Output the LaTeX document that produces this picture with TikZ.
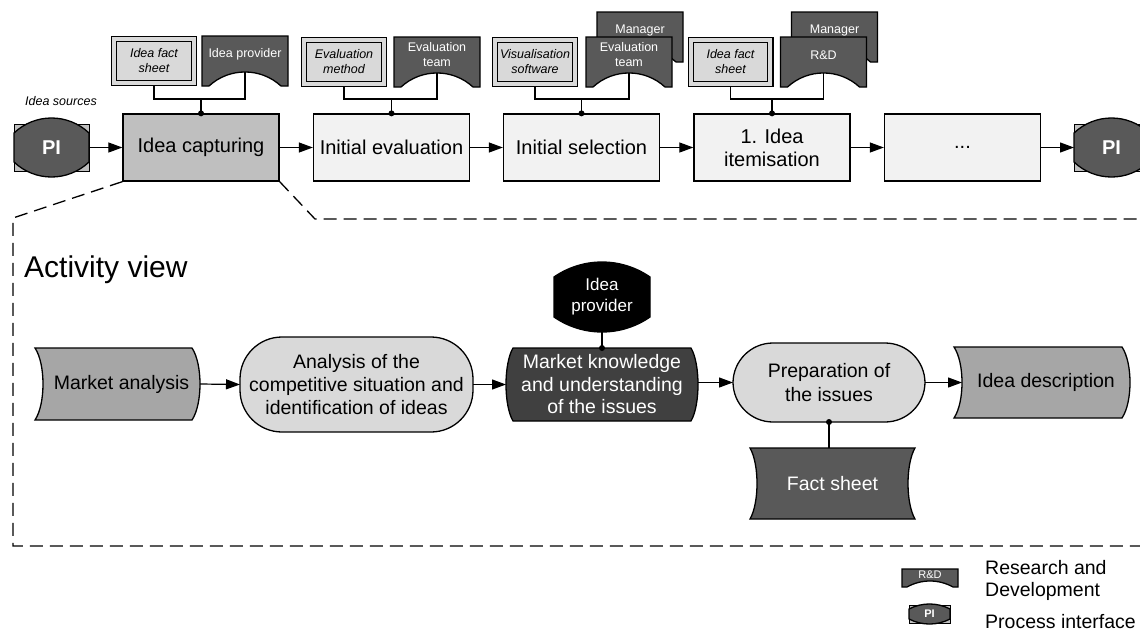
\documentclass[tikz,border=0pt]{standalone}
\usepackage{fontspec}
\setmainfont{Liberation Sans}
\usetikzlibrary{arrows.meta,calc,backgrounds}
\definecolor{procL}{HTML}{F2F2F2}
\definecolor{procM}{HTML}{BFBFBF}
\definecolor{lgray}{HTML}{D9D9D9}
\definecolor{mgray}{HTML}{A6A6A6}
\definecolor{dgray}{HTML}{595959}
\definecolor{vdgray}{HTML}{404040}
\definecolor{pirect}{HTML}{BFBFBF}

\tikzset{
  proc/.style={draw, line width=1.3pt, fill=procL, minimum width=156pt, minimum height=67pt, inner sep=0pt, align=center, font=\fontsize{20}{23}\selectfont},
  docbox/.style={draw, line width=1.2pt, double=lgray, double distance=4pt, fill=lgray, minimum width=79.6pt, minimum height=43.6pt, inner sep=0pt, outer sep=3.2pt, align=center, font=\fontsize{12.5}{15}\selectfont\itshape},
  rolebox/.style={minimum width=86pt, minimum height=36pt, inner sep=0pt, outer sep=0pt, align=center, text=white, font=\fontsize{12.5}{15}\selectfont},
  pinode/.style={minimum width=75pt, minimum height=47pt, inner sep=0pt, outer sep=0pt, text=white, font=\fontsize{20}{24}\selectfont\bfseries},
  conn/.style={line width=1.2pt},
  arr/.style={conn, -{Triangle[length=14pt,width=10pt]}},
  zoomline/.style={line width=1.3pt, dash pattern=on 13pt off 7pt},
  act/.style={inner sep=0pt, outer sep=0pt, align=center, font=\fontsize{19.5}{23}\selectfont},
  stadium/.style={act, draw, line width=1.3pt, fill=lgray},
  shp/.style={line width=1.3pt},
}

% lens: node, fill, side inset, ctrl x, ctrl y (up)
\newcommand{\LENSshape}[5]{%
  \filldraw[shp, fill=#2] ($(#1.north west)+(0,#3)$) .. controls ($(#1.north west)+(#4,-#5)$) and ($(#1.north east)+(-#4,-#5)$) .. ($(#1.north east)+(0,#3)$) -- ($(#1.south east)+(0,-#3)$) .. controls ($(#1.south east)+(-#4,#5)$) and ($(#1.south west)+(#4,#5)$) .. ($(#1.south west)+(0,-#3)$) -- cycle;}
\newcommand{\PIshape}[4]{%
  \filldraw[fill=pirect, line width=0.8pt] (#1.north west) rectangle (#1.south east);
  \LENSshape{#1}{dgray}{#2}{#3}{#4}}
% role: node, bottom ext, inset, ctrl x, ctrl y, fill
\newcommand{\ROLEshape}[6]{%
  \filldraw[shp, fill=#6] (#1.north west) -- (#1.north east) -- ($(#1.south east)+(0,#2)$) -- ($(#1.south east)+(-#3,#2)$) .. controls ($(#1.south east)+({-#3-#4},{#2-#5})$) and ($(#1.south west)+({#3+#4},{#2-#5})$) .. ($(#1.south west)+(#3,#2)$) -- ($(#1.south west)+(0,#2)$) -- cycle;}
% ribbon: both sides curve to the right
\newcommand{\RIBshape}[3]{%
  \filldraw[shp, fill=#3] ($(#1.north west)+(-#2,0)$) -- ($(#1.north east)+(-#2,0)$) .. controls ($(#1.north east)+({#2/3},16)$) and ($(#1.south east)+({#2/3},-16)$) .. ($(#1.south east)+(-#2,0)$) -- ($(#1.south west)+(-#2,0)$) .. controls ($(#1.south west)+({#2/3},-16)$) and ($(#1.north west)+({#2/3},16)$) .. cycle;}
% barrel: both sides bulge out
\newcommand{\BARshape}[3]{%
  \filldraw[shp, fill=#3] ($(#1.north west)+(#2,0)$) -- ($(#1.north east)+(-#2,0)$) .. controls ($(#1.north east)+({#2/3},16)$) and ($(#1.south east)+({#2/3},-16)$) .. ($(#1.south east)+(-#2,0)$) -- ($(#1.south west)+(#2,0)$) .. controls ($(#1.south west)+({-#2/3},-16)$) and ($(#1.north west)+({-#2/3},16)$) .. cycle;}
% concave: both sides curve in
\newcommand{\CONshape}[3]{%
  \filldraw[shp, fill=#3] ($(#1.north west)+(-#2,0)$) -- ($(#1.north east)+(#2,0)$) .. controls ($(#1.north east)+({-#2/3},16)$) and ($(#1.south east)+({-#2/3},-16)$) .. ($(#1.south east)+(#2,0)$) -- ($(#1.south west)+(-#2,0)$) .. controls ($(#1.south west)+({#2/3},-16)$) and ($(#1.north west)+({#2/3},16)$) .. cycle;}

\begin{document}
\begin{tikzpicture}[x=1pt,y=-1pt]
\useasboundingbox (0,0) rectangle (1140,643);

% ---------- process row ----------
\node[pinode] (pi1) at (51.5,147.5) {PI};
\node[proc, fill=procM] (cap) at (201,147.5) {Idea capturing};
\node[proc] (ie) at (391.5,147.5) {Initial evaluation};
\node[proc] (is) at (581.5,147.5) {Initial selection};
\node[proc] (ii) at (772,147.5) {1. Idea\\itemisation};
\node[proc] (dots) at (962.5,147.5) {...};
\node[pinode] (pi2) at (1111.5,147.5) {PI};

\node[anchor=west, inner sep=0pt, font=\fontsize{12.5}{14}\selectfont\itshape] (src) at (25,101) {Idea sources};

% ---------- resources ----------
\node[docbox] (d1) at (154,61) {Idea fact\\sheet};
\node[rolebox, anchor=north] (r1) at (245,36) {Idea provider};
\node[docbox] (d2) at (344,62) {Evaluation\\method};
\node[rolebox, anchor=north] (r2) at (437,37) {Evaluation\\team};
\node[docbox] (d3) at (535,62) {Visualisation\\software};
\node[rolebox, anchor=north] (m3) at (640,12) {Manager};
\node[rolebox, anchor=north] (r3) at (629,37) {Evaluation\\team};
\node[docbox] (d4) at (730.5,62) {Idea fact\\sheet};
\node[rolebox, anchor=north] (m4) at (834.5,12) {Manager};
\node[rolebox, anchor=north] (r4) at (823.5,37) {R\&D};

\coordinate (j1) at (201,99);
\coordinate (j2) at (391.5,99);
\coordinate (j3) at (581.5,99);
\coordinate (j4) at (772,99);

% ---------- activity view ----------
\node[anchor=west, inner sep=0pt, font=\fontsize{30}{34}\selectfont] (av) at (24,270) {Activity view};
\node[act, minimum width=157pt, minimum height=72pt] (ma) at (121.5,384) {Market analysis};
\node[stadium, rounded corners=42pt, minimum width=233pt, minimum height=95pt] (an) at (356.5,384.5) {Analysis of the\\competitive situation and\\identification of ideas};
\node[act, text=white, minimum width=192pt, minimum height=73pt, font=\fontsize{19.5}{22.5}\selectfont] (mk) at (602,384.5) {Market knowledge\\and understanding\\of the issues};
\node[inner sep=0pt, outer sep=0pt, align=center, text=white, minimum width=96pt, minimum height=70pt, font=\fontsize{17}{21}\selectfont] (ip) at (602,297) {Idea\\provider};
\node[stadium, rounded corners=40pt, minimum width=192pt, minimum height=79pt, font=\fontsize{19.5}{24}\selectfont] (prep) at (829,382.5) {Preparation of\\the issues};
\node[act, minimum width=168pt, minimum height=71pt] (id) at (1046,382.5) {Idea description};
\node[act, text=white, minimum width=151pt, minimum height=71pt] (fs) at (832.5,483.5) {Fact sheet};

% ---------- legend ----------
\node[rolebox, anchor=north, minimum width=56pt, minimum height=12pt, font=\fontsize{11}{13}\selectfont] (lr) at (930,569) {R\&D};
\node[pinode, minimum width=41pt, minimum height=18pt, font=\fontsize{11}{13}\selectfont\bfseries] (lpi) at (929.5,614) {PI};
\node[anchor=west, inner sep=0pt, align=left, font=\fontsize{19.5}{21.5}\selectfont] (lt1) at (985,580.5) {Research and\\Development};
\node[anchor=west, inner sep=0pt, font=\fontsize{19.5}{21.5}\selectfont] (lt2) at (985,622) {Process interface};

% ---------- shapes behind text ----------
\begin{scope}[on background layer]
  \PIshape{pi1}{9}{21}{11}
  \PIshape{pi2}{9}{21}{11}
  \ROLEshape{r1}{14}{7}{20.3}{18.7}{dgray}
  \ROLEshape{r2}{14}{7}{20.3}{18.7}{dgray}
  \ROLEshape{m3}{14}{7}{20.3}{18.7}{dgray}
  \ROLEshape{r3}{14}{7}{20.3}{18.7}{dgray}
  \ROLEshape{m4}{14}{7}{20.3}{18.7}{dgray}
  \ROLEshape{r4}{14}{7}{20.3}{18.7}{dgray}
  \RIBshape{ma}{8}{mgray}
  \RIBshape{id}{8}{mgray}
  \BARshape{mk}{7}{vdgray}
  \CONshape{fs}{7}{dgray}
  \LENSshape{ip}{black}{15}{29}{5}
  \ROLEshape{lr}{6}{5}{14.3}{8}{dgray}
  \PIshape{lpi}{4}{12.9}{2.7}
\end{scope}

% ---------- connectors ----------
\draw[arr] (pi1.east) -- (cap.west);
\draw[arr] (cap.east) -- (ie.west);
\draw[arr] (ie.east) -- (is.west);
\draw[arr] (is.east) -- (ii.west);
\draw[arr] (ii.east) -- (dots.west);
\draw[arr] (dots.east) -- (pi2.west);

\draw[conn] (d1.south) |- (j1) -| (r1.south);
\draw[conn] (j1) -- (cap.north);
\fill (cap.north) circle (3pt);
\draw[conn] (d2.south) |- (j2) -| (r2.south);
\draw[conn] (j2) -- (ie.north);
\fill (ie.north) circle (3pt);
\draw[conn] (d3.south) |- (j3) -| (r3.south);
\draw[conn] (j3) -- (is.north);
\fill (is.north) circle (3pt);
\draw[conn] (d4.south) |- (j4) -| (r4.south);
\draw[conn] (j4) -- (ii.north);
\fill (ii.north) circle (3pt);

\draw[arr] (ma.east) -- (an.west);
\draw[arr] (an.east) -- (mk.west |- an.east);
\draw[arr] (mk.east |- prep.west) -- (prep.west);
\draw[arr] (prep.east) -- (id.west);
\draw[conn] (ip.south) -- (mk.north);
\fill (mk.north) circle (3pt);
\draw[conn] (fs.north -| prep.south) -- (prep.south);
\fill (prep.south) circle (3pt);

% ---------- zoom frame ----------
\coordinate (zl) at (13,218);
\coordinate (zb) at (13,546);
\coordinate (ze) at (1140,546);
\coordinate (zr) at (315,219);
\coordinate (zre) at (1140,219);
\draw[zoomline] (cap.south west) -- (zl) -- (zb) -- (ze);
\draw[zoomline] (cap.south east) -- (zr) -- (zre);
\end{tikzpicture}
\end{document}
